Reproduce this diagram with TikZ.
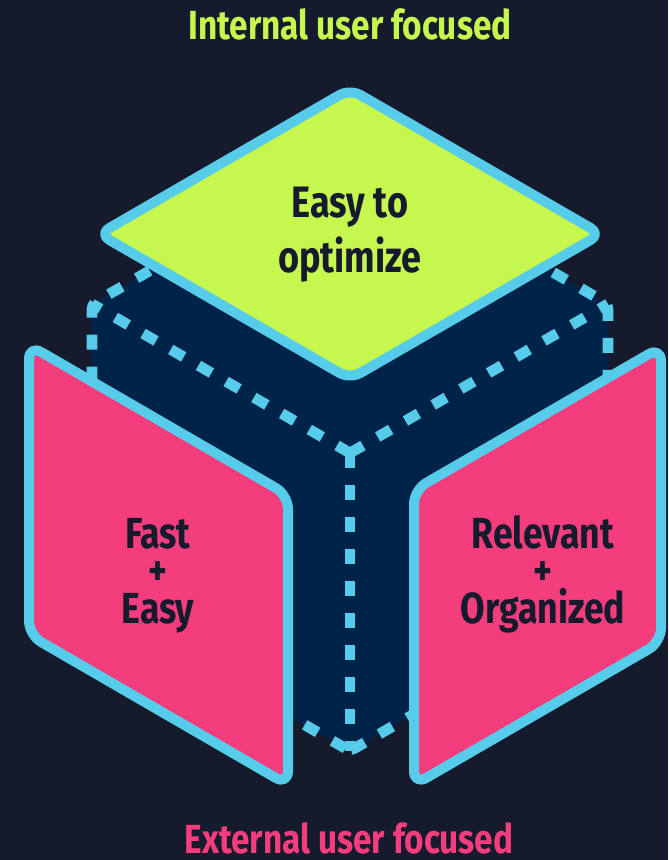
\documentclass[tikz,border=0pt]{standalone}
\usepackage{fontspec}
\setmainfont{Fira Sans}[FakeStretch=0.82]

\definecolor{pagebg}{HTML}{151A2C}
\definecolor{cubenavy}{HTML}{00234A}
\definecolor{edgecyan}{HTML}{57CCEA}
\definecolor{toplime}{HTML}{C5F74F}
\definecolor{facepink}{HTML}{F33D7C}
\definecolor{ink}{HTML}{151A2C}

\begin{document}
\begin{tikzpicture}[x=0.75pt,y=-0.75pt,
  face/.style={fill=facepink, draw=edgecyan, line width=7.5pt, line join=round, rounded corners=10.5pt},
  topface/.style={fill=toplime, draw=edgecyan, line width=7.5pt, line join=round, rounded corners=9pt},
  dotline/.style={draw=edgecyan, line width=8pt, line join=round, dash pattern=on 11.25pt off 12.75pt},
  facetext/.style={font=\bfseries\fontsize{32.6}{28.1}\selectfont, text=ink, align=center, inner sep=0pt, anchor=base},
  toptext/.style={font=\bfseries\fontsize{33}{41}\selectfont, text=ink, align=center, inner sep=0pt, anchor=base},
  caption/.style={font=\bfseries\fontsize{30.5}{34}\selectfont, inner sep=0pt, anchor=base}]

  % page
  \fill[pagebg] (0,0) rectangle (668,860);
  \useasboundingbox (0,0) rectangle (668,860);

  % hexagonal body of the cube
  \coordinate (C) at (350,453);
  \coordinate (hexT) at (350,155);
  \coordinate (hexUR) at (608,304);
  \coordinate (hexLR) at (608,602);
  \coordinate (hexB) at (350,751);
  \coordinate (hexLL) at (92,602);
  \coordinate (hexUL) at (92,304);

  \fill[cubenavy] (hexT) -- (hexUR) -- (hexLR) -- (hexB) -- (hexLL) -- (hexUL) -- cycle;
  \draw[dotline, rounded corners=4pt] (hexB) -- (hexLL) -- (hexUL) -- (hexT) -- (hexUR) -- (hexLR) -- cycle;

  % inner edges meeting at the near corner
  \draw[dotline] (C) -- (hexUL);
  \draw[dotline] (C) -- (hexUR);
  \draw[dotline] (C) -- (hexB);

  % side faces
  \draw[face] (29,345) -- (288,495) -- (288,785) -- (29,635) -- cycle;
  \draw[face] (661,347) -- (414,490) -- (414,785) -- (661,642) -- cycle;

  % top face
  \draw[topface] (350,89) -- (601,234) -- (350,379) -- (99,234) -- cycle;

  % labels (anchored at the baseline of their last line)
  \node[toptext] (top) at (350,272) {Easy to\\optimize};
  \node[facetext] (left) at (158,623) {Fast\\+\\Easy};
  \node[facetext] (right) at (543,623) {Relevant\\+\\Organized};

  \node[caption, text=toplime] (internal) at (350,39) {Internal user focused};
  \node[caption, text=facepink] (external) at (349,853) {External user focused};
\end{tikzpicture}
\end{document}
